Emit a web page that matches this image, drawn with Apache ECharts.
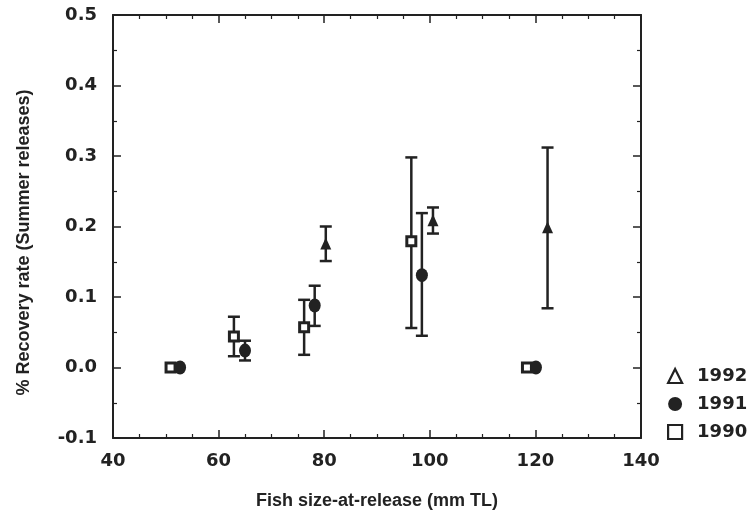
<!DOCTYPE html>
<html>
<head>
<meta charset="utf-8">
<script src="https://cdn.jsdelivr.net/npm/echarts@6/dist/echarts.min.js"></script>
<style>
html,body{margin:0;padding:0;background:#fff;}
#c{width:755px;height:523px;}
</style>
</head>
<body>
<div id="c"></div>
<script>
// Data
var x1990 = [50.9, 62.9, 76.2, 96.5, 118.4];
var y1990 = [0, 0.044, 0.057, 0.179, 0];
var lo1990 = [null, 0.016, 0.018, 0.056, null];
var hi1990 = [null, 0.072, 0.096, 0.298, null];

var x1991 = [52.7, 65.0, 78.2, 98.5, 120.1];
var y1991 = [0, 0.024, 0.088, 0.131, 0];
var lo1991 = [null, 0.010, 0.059, 0.045, null];
var hi1991 = [null, 0.038, 0.116, 0.219, null];

var x1992 = [80.3, 100.6, 122.3];
var y1992 = [0.176, 0.209, 0.199];
var lo1992 = [0.151, 0.190, 0.084];
var hi1992 = [0.200, 0.227, 0.312];

var xTicks = [40, 60, 80, 100, 120, 140];
var yTicks = [-0.1, 0.0, 0.1, 0.2, 0.3, 0.4, 0.5];
var seriesNames = ['1992', '1991', '1990'];

var INK = '#222';
var FONT = 'DejaVu Sans';
var TFONT = 'Liberation Sans';

function pts(xs, ys) { return xs.map(function (x, i) { return [x, ys[i]]; }); }
function errs(xs, lo, hi) {
  var out = [];
  xs.forEach(function (x, i) { if (lo[i] != null) out.push([x, lo[i], hi[i]]); });
  return out;
}
function errSeries(data) {
  return {
    type: 'custom',
    data: data,
    z: 2,
    silent: true,
    renderItem: function (params, api) {
      var x = api.value(0);
      var p1 = api.coord([x, api.value(1)]);
      var p2 = api.coord([x, api.value(2)]);
      var hw = 6;
      var st = { stroke: INK, lineWidth: 2.5 };
      return {
        type: 'group',
        children: [
          { type: 'line', shape: { x1: p1[0], y1: p1[1], x2: p2[0], y2: p2[1] }, style: st },
          { type: 'line', shape: { x1: p1[0] - hw, y1: p1[1], x2: p1[0] + hw, y2: p1[1] }, style: st },
          { type: 'line', shape: { x1: p2[0] - hw, y1: p2[1], x2: p2[0] + hw, y2: p2[1] }, style: st }
        ]
      };
    }
  };
}

var chart = echarts.init(document.getElementById('c'), null, { renderer: 'canvas' });

var axisLine = { show: true, onZero: false, lineStyle: { color: INK, width: 2 } };
var axisTick = { show: true, inside: true, length: 8, lineStyle: { color: INK, width: 1.5 } };
function minor(n) { return { show: true, splitNumber: n, length: 4, lineStyle: { color: INK, width: 1.2 } }; }

var option = {
  backgroundColor: '#fff',
  animation: false,
  grid: { left: 113, right: 114, top: 15, bottom: 85, containLabel: false },
  xAxis: [
    {
      type: 'value', min: xTicks[0], max: xTicks[xTicks.length - 1], interval: 20,
      position: 'bottom',
      axisLine: axisLine, axisTick: axisTick, minorTick: minor(4), splitLine: { show: false },
      axisLabel: { margin: 14, color: INK, fontFamily: FONT, fontWeight: 'bold', fontSize: 18 },
      name: 'Fish size-at-release (mm TL)',
      nameLocation: 'middle', nameGap: 54,
      nameTextStyle: { color: INK, fontFamily: TFONT, fontWeight: 'bold', fontSize: 18 }
    },
    {
      type: 'value', min: xTicks[0], max: xTicks[xTicks.length - 1], interval: 20,
      position: 'top',
      axisLine: axisLine, axisTick: axisTick, minorTick: minor(4), splitLine: { show: false },
      axisLabel: { show: false }
    }
  ],
  yAxis: [
    {
      type: 'value', min: yTicks[0], max: yTicks[yTicks.length - 1], interval: 0.1,
      position: 'left',
      axisLine: axisLine, axisTick: axisTick, minorTick: minor(2), splitLine: { show: false },
      axisLabel: {
        margin: 16, color: INK, fontFamily: FONT, fontWeight: 'bold', fontSize: 18,
        formatter: function (v) { return v.toFixed(1); }
      },
      name: '% Recovery rate (Summer releases)',
      nameLocation: 'middle', nameGap: 80, nameRotate: 90,
      nameTextStyle: { color: INK, fontFamily: TFONT, fontWeight: 'bold', fontSize: 18, padding: [0, 32, 0, 0] }
    },
    {
      type: 'value', min: yTicks[0], max: yTicks[yTicks.length - 1], interval: 0.1,
      position: 'right',
      axisLine: axisLine, axisTick: axisTick, minorTick: minor(2), splitLine: { show: false },
      axisLabel: { show: false }
    }
  ],
  legend: {
    orient: 'vertical',
    left: 667, top: 367,
    itemWidth: 14, itemHeight: 14, itemGap: 10,
    padding: 0,
    selectedMode: false,
    textStyle: { color: INK, fontFamily: FONT, fontWeight: 'bold', fontSize: 18, padding: [0, 0, 0, 10] },
    data: [
      { name: seriesNames[0], icon: 'triangle', itemStyle: { color: '#fff', borderColor: INK, borderWidth: 2.2 } },
      { name: seriesNames[1], icon: 'circle', itemStyle: { color: INK, borderColor: INK, borderWidth: 0 } },
      { name: seriesNames[2], icon: 'rect', itemStyle: { color: '#fff', borderColor: INK, borderWidth: 2.2 } }
    ]
  },
  series: [
    errSeries(errs(x1990, lo1990, hi1990)),
    errSeries(errs(x1991, lo1991, hi1991)),
    errSeries(errs(x1992, lo1992, hi1992)),
    {
      name: seriesNames[2], type: 'scatter', z: 3,
      data: pts(x1990, y1990),
      symbol: 'rect', symbolSize: 9,
      itemStyle: { color: '#fff', borderColor: INK, borderWidth: 3, opacity: 1 }
    },
    {
      name: seriesNames[1], type: 'scatter', z: 3,
      data: pts(x1991, y1991),
      symbol: 'circle', symbolSize: [12, 14],
      itemStyle: { color: INK, opacity: 1 }
    },
    {
      name: seriesNames[0], type: 'scatter', z: 3,
      data: pts(x1992, y1992),
      symbol: 'triangle', symbolSize: [11, 12],
      itemStyle: { color: INK, opacity: 1 }
    }
  ]
};
chart.setOption(option);
</script>
</body>
</html>
